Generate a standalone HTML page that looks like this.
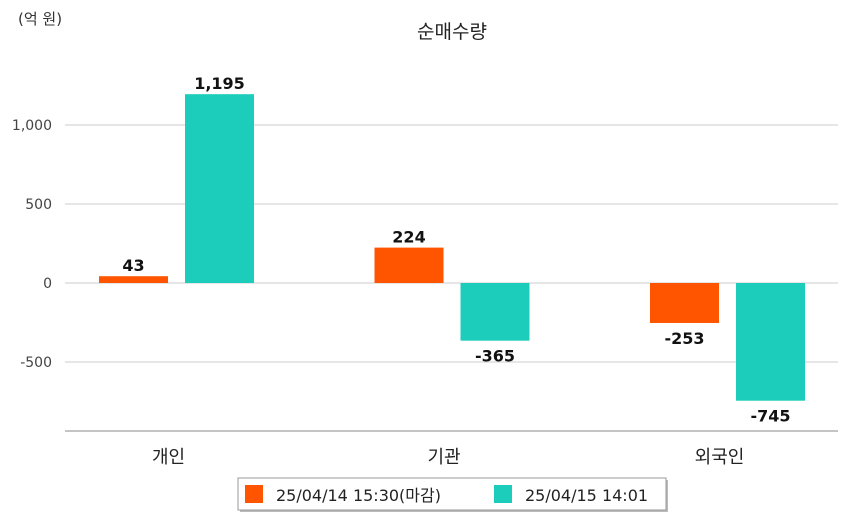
<!DOCTYPE html>
<html><head><meta charset="utf-8"><style>
body{margin:0;background:#fff;width:849px;height:520px;overflow:hidden;font-family:"DejaVu Sans","Noto Sans CJK KR",sans-serif;}
</style></head><body>
<svg id="c" width="849" height="520" xmlns="http://www.w3.org/2000/svg" font-family="DejaVu Sans, Noto Sans CJK KR, sans-serif">
<text x="18" y="24" font-size="15" fill="#333">(억 원)</text>
<text x="452" y="38" font-size="19" fill="#222" text-anchor="middle">순매수량</text>
<g id="grid"></g><g id="bars"></g>
<g>
<rect x="240" y="480" width="428" height="32" fill="#bbb"/>
<rect x="238" y="478" width="428" height="32" fill="#fff" stroke="#999"/>
<rect x="245" y="485" width="18" height="18" fill="#ff5500"/>
<text x="276" y="501" font-size="16" fill="#222">25/04/14 15:30(마감)</text>
<rect x="494" y="485" width="18" height="18" fill="#1ccdbb"/>
<text x="525" y="501" font-size="16" fill="#222">25/04/15 14:01</text>
</g>
</svg>
<script>
const categories=["개인","기관","외국인"];
const series0=[43,224,-253];
const series1=[1195,-365,-745];
const ticks=[-500,0,500,1000];
const tickLabels=["-500","0","500","1,000"];
const valueLabels0=["43","224","-253"];
const valueLabels1=["1,195","-365","-745"];
const NS="http://www.w3.org/2000/svg";
const y=v=>283-v*0.158;
const cx=i=>176.5+i*275.5;
function mk(t,a,p){const e=document.createElementNS(NS,t);for(const k in a)e.setAttribute(k,a[k]);p.appendChild(e);return e;}
const g=document.getElementById('grid'),b=document.getElementById('bars');
ticks.forEach((t,i)=>{
 const l=mk('line',{x1:65,x2:838,y1:y(t),y2:y(t),stroke:'#ccc'},g);
 
 
 const tx=mk('text',{x:52,y:y(t)+5,'font-size':14,fill:'#444','text-anchor':'end'},g);tx.textContent=tickLabels[i];
 
 
});
const ax=mk('line',{x1:65,x2:838,y1:431,y2:431,stroke:'#888'},g);


categories.forEach((c,i)=>{
 const t=mk('text',{x:cx(i)-8,y:463,'font-size':18,fill:'#222','text-anchor':'middle'},g);t.textContent=c;
 
 
 [[series0,valueLabels0,'#ff5500',-77.5],[series1,valueLabels1,'#1ccdbb',8.5]].forEach(([s,vl,col,off])=>{
  const v=s[i],x=cx(i)+off,top=Math.min(y(v),y(0)),h=Math.abs(y(v)-y(0));
  const r=mk('rect',{x:x,y:top,width:69,height:h,fill:col},b);
  
  
  const ty=v>=0?y(v)-5:y(v)+21;
  const tt=mk('text',{x:x+34.5,y:ty,'font-size':16,'font-weight':'bold',fill:'#111','text-anchor':'middle'},b);tt.textContent=vl[i];
  
  
 });
});
</script>
</body></html>
